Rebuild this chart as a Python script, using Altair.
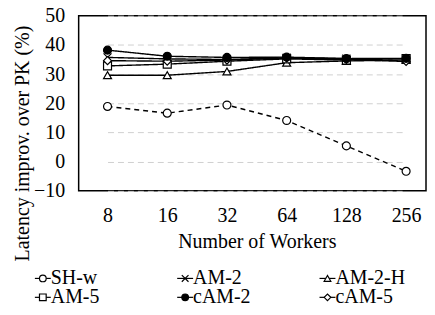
import altair as alt
import pandas as pd

workers = ["8", "16", "32", "64", "128", "256"]
series_names = ["SH-w", "AM-2", "AM-2-H", "AM-5", "cAM-5", "cAM-2"]
sh_w = [18.9, 16.6, 19.4, 14.1, 5.4, -3.3]
am_2 = [35.7, 35.2, 35.0, 35.6, 35.3, 35.3]
am_2_h = [29.6, 29.6, 30.9, 33.9, 34.5, 34.8]
am_5 = [32.8, 33.4, 34.4, 35.2, 34.8, 35.3]
cam_5 = [34.6, 34.4, 34.8, 35.5, 35.0, 34.3]
cam_2 = [38.2, 36.1, 35.7, 35.8, 35.3, 35.4]
y_ticks = [-10, 0, 10, 20, 30, 40, 50]

legend_order = ["SH-w", "AM-2", "AM-2-H", "AM-5", "cAM-2", "cAM-5"]
legend_col = [0, 1, 2, 0, 1, 2]
legend_row = [0, 0, 0, 1, 1, 1]

values = [sh_w, am_2, am_2_h, am_5, cam_5, cam_2]
rows = []
for name, vals in zip(series_names, values):
    for w, v in zip(workers, vals):
        rows.append({"series": name, "workers": w, "value": v})
df = pd.DataFrame(rows)

FONT = "Times New Roman, Liberation Serif, serif"
X_PATH = "M-1,-1L1,1M-1,1L1,-1"
shape_map = {
    "SH-w": "circle",
    "AM-2": X_PATH,
    "AM-2-H": "triangle-up",
    "AM-5": "square",
    "cAM-5": "diamond",
    "cAM-2": "circle",
}
fill_map = {"SH-w": "white", "AM-2": "white", "AM-2-H": "white",
            "AM-5": "white", "cAM-5": "white", "cAM-2": "black"}
dash_map = {"SH-w": [5, 4]}

shape_scale = alt.Scale(domain=series_names, range=[shape_map[s] for s in series_names])
fill_scale = alt.Scale(domain=series_names, range=[fill_map[s] for s in series_names])
dash_scale = alt.Scale(domain=series_names, range=[dash_map.get(s, [1, 0]) for s in series_names])

W, H = 349, 176

x_enc = alt.X("workers:O", sort=workers, scale=alt.Scale(type="point", range=[29, 329], padding=0),
              axis=alt.Axis(title="Number of Workers", labelAngle=0, ticks=False,
                            domain=False, labelPadding=15,
                            titlePadding=6, grid=False))
y_enc = alt.Y("value:Q", scale=alt.Scale(domain=[-10, 50], nice=False),
              axis=alt.Axis(values=y_ticks, title="Latency improv. over  PK (%)",
                            ticks=False, domain=False,
                            labelPadding=14, grid=True, gridDash=[6, 4],
                            gridColor="#d0d0d0", gridWidth=1,
                            titleX=-50, titleY=128, titleBaseline="alphabetic",
                            titleAlign="center", titleAngle=270))

base = alt.Chart(df)
lines = base.mark_line(color="black", strokeWidth=1.4).encode(
    x=x_enc, y=y_enc,
    detail="series:N",
    strokeDash=alt.StrokeDash("series:N", scale=dash_scale, legend=None),
)
points = base.mark_point(stroke="black", strokeWidth=1.2, size=64, opacity=1, filled=True).encode(
    x=x_enc, y=y_enc,
    shape=alt.Shape("series:N", scale=shape_scale, legend=None),
    fill=alt.Fill("series:N", scale=fill_scale, legend=None),
)

main = alt.layer(lines, points).properties(
    width=W, height=H, view=alt.ViewBackground(stroke="black", strokeWidth=1.5))

leg_df = pd.DataFrame({"series": legend_order, "col": legend_col, "row": legend_row})
leg_x = alt.X("col:Q", scale=alt.Scale(domain=[0, 2], range=[-36, 250]), axis=None)
leg_y = alt.Y("row:Q", scale=alt.Scale(domain=[0, 1], range=[0, 19]), axis=None)
leg_base = alt.Chart(leg_df)
leg_line = leg_base.mark_point(shape="M-1,0L1,0", size=256, stroke="black",
                               strokeWidth=1.2, opacity=1).encode(x=leg_x, y=leg_y)
leg_mark = leg_base.mark_point(stroke="black", strokeWidth=1.2, size=45, opacity=1, filled=True).encode(
    x=leg_x, y=leg_y,
    shape=alt.Shape("series:N", scale=shape_scale, legend=None),
    fill=alt.Fill("series:N", scale=fill_scale, legend=None),
)
leg_text = leg_base.mark_text(align="left", baseline="middle", dx=8, font=FONT,
                              fontSize=20, color="black").encode(x=leg_x, y=leg_y, text="series:N")
legend = alt.layer(leg_line, leg_mark, leg_text).properties(
    width=300, height=19, view=alt.ViewBackground(stroke="transparent"))

chart = alt.vconcat(main, legend, spacing=3).resolve_scale(
    shape="shared", fill="shared"
).properties(
    padding={"top": -4, "left": 4, "right": 0, "bottom": 0}
).configure_axis(
    labelFont=FONT, labelFontSize=20, labelColor="black",
    titleFont=FONT, titleFontSize=20, titleColor="black", titleFontWeight="normal",
)

chart.save("out.html", embed_options={"renderer": "svg", "actions": False})
